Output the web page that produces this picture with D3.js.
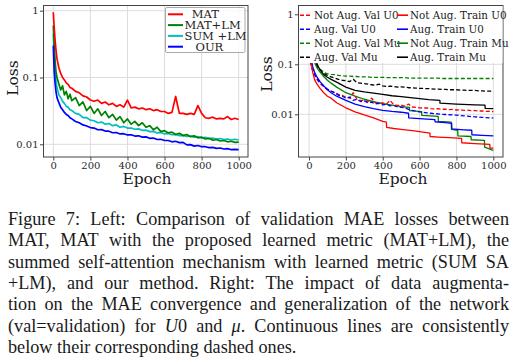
<!DOCTYPE html>
<html>
<head>
<meta charset="utf-8">
<script src="https://cdn.jsdelivr.net/npm/d3@7"></script>
<style>
  body { margin: 0; background: #fff; }
  #fig { position: relative; width: 517px; height: 358px; overflow: hidden; background: #fff; }
  #fig svg { position: absolute; left: 0; top: 0; }
  #caption {
    position: absolute; left: 8px; top: 209.2px; width: 501px;
    font-family: "Liberation Serif", "Times New Roman", serif;
    font-size: 18.2px; line-height: 21.3px; color: #1a1a1a;
  }
  #caption div { text-align: justify; text-align-last: justify; white-space: nowrap; }
  #caption div.last { text-align-last: left; }
</style>
</head>
<body>
<div id="fig"></div>
<script>
// ---- data ----
const epochGrid = [0,5,10,15,20,30,40,50,60,70,80,90,100,
  120,140,160,180,200, 220,240,260,280,300, 320,340,360,380,400,
  420,440,460,480,500, 520,540,560,580,600, 620,640,660,680,700,
  720,740,760,780,800, 820,840,860,880,900, 920,940,960,980,1000]

const xTicks = [0,200,400,600,800,1000]
const yTicks = [1,0.1,0.01]
const yTickLabels = ["1","0.1","0.01"]

// left panel: validation losses
const leftLabels = ["  MAT","MAT+LM","SUM +LM","   OUR"]
const matVal = [0.95,0.55,0.35,0.25,0.19,0.14,0.115,0.1,0.092,0.083,0.079,0.071,0.069,
  0.062,0.059,0.053,0.051,0.046, 0.044,0.046,0.041,0.043,0.039, 0.041,0.037,0.039,0.036,0.046,
  0.035,0.036,0.034,0.035,0.033, 0.034,0.032,0.033,0.031,0.031, 0.029,0.03,0.052,0.029,0.029,
  0.028,0.029,0.028,0.038,0.029, 0.025,0.0245,0.0255,0.024,0.0245, 0.024,0.026,0.0235,0.0245,0.0235]
const matLmVal = [0.6,0.3,0.17,0.12,0.1,0.08,0.065,0.075,0.055,0.062,0.048,0.056,0.045,
  0.05,0.038,0.043,0.032,0.037, 0.029,0.034,0.027,0.031,0.025, 0.028,0.023,0.026,0.021,0.024,
  0.02,0.022,0.019,0.021,0.018, 0.019,0.0165,0.018,0.0155,0.016, 0.0148,0.0152,0.014,0.0146,0.0135,
  0.014,0.013,0.0134,0.0125,0.0128, 0.012,0.0123,0.0115,0.0118,0.0112, 0.0114,0.0109,0.0111,0.0107,0.0108]
const sumLmVal = [0.45,0.2,0.12,0.085,0.07,0.055,0.05,0.044,0.041,0.037,0.036,0.033,0.032,
  0.029,0.028,0.025,0.025,0.023, 0.0225,0.021,0.0215,0.02,0.0205, 0.019,0.0195,0.018,0.0185,0.0175,
  0.0175,0.0168,0.017,0.0162,0.0163, 0.0155,0.0156,0.0148,0.015,0.0143, 0.0145,0.0139,0.014,0.0135,0.0136,
  0.0131,0.0133,0.0128,0.013,0.0125, 0.0127,0.0122,0.0124,0.012,0.0122, 0.0118,0.012,0.0116,0.0119,0.0116]
const ourVal = [0.3,0.12,0.08,0.06,0.05,0.042,0.036,0.033,0.03,0.028,0.027,0.025,0.024,
  0.022,0.021,0.0195,0.0188,0.0178, 0.0175,0.0165,0.0166,0.0158,0.0157, 0.0149,0.015,0.0143,0.0144,0.0138,
  0.0139,0.0133,0.0134,0.0128,0.0129, 0.0123,0.0124,0.0118,0.0119,0.0114, 0.0114,0.0109,0.0111,0.0106,0.0107,
  0.0098,0.0099,0.0094,0.0096,0.0092, 0.0092,0.0089,0.009,0.0087,0.0088, 0.0085,0.0086,0.0083,0.0084,0.0083]

// right panel: augmentation study
const rightLabels = ["Not Aug. Val U0","Aug. Val U0","Not Aug. Val Mu","Aug. Val Mu",
  "Not Aug. Train U0","Aug. Train U0","Not Aug. Train Mu","Aug. Train Mu"]
const notAugValU0 = [0.2,0.13,0.1,0.085,0.075,0.062,0.052,0.046,0.042,0.038,0.036,0.033,0.031,
  0.029,0.027,0.025,0.024,0.022, 0.021,0.027,0.02,0.019,0.019, 0.018,0.021,0.017,0.0165,0.017,
  0.016,0.019,0.0155,0.015,0.0152, 0.0145,0.016,0.014,0.0138,0.0135, 0.0133,0.0135,0.013,0.0128,0.013,
  0.0126,0.0127,0.0124,0.0125,0.0122, 0.0123,0.012,0.0121,0.0118,0.0119, 0.0116,0.0117,0.0114,0.0115,0.0113]
const augValU0 = [0.2,0.14,0.11,0.09,0.078,0.063,0.055,0.048,0.043,0.04,0.037,0.034,0.032,
  0.029,0.027,0.024,0.023,0.021, 0.022,0.019,0.02,0.018,0.0185, 0.017,0.0175,0.0162,0.0165,0.0155,
  0.0158,0.0148,0.015,0.014,0.0138, 0.0135,0.0125,0.012,0.0115,0.0112, 0.011,0.0107,0.0105,0.0103,0.0102,
  0.01,0.0099,0.0098,0.0097,0.0096, 0.0094,0.0093,0.0092,0.009,0.0089, 0.0088,0.0087,0.0086,0.0085,0.0084]
const notAugValMu = [0.3,0.25,0.2,0.17,0.15,0.12,0.1,0.088,0.08,0.075,0.07,0.067,0.065,
  0.063,0.062,0.06,0.059,0.058, 0.058,0.057,0.057,0.056,0.056, 0.056,0.055,0.055,0.055,0.055,
  0.054,0.054,0.054,0.054,0.054, 0.054,0.053,0.053,0.053,0.053, 0.053,0.053,0.053,0.053,0.053,
  0.052,0.052,0.052,0.052,0.052, 0.052,0.052,0.052,0.052,0.052, 0.052,0.052,0.052,0.052,0.052]
const augValMu = [0.4,0.3,0.25,0.2,0.17,0.13,0.1,0.085,0.077,0.07,0.066,0.063,0.06,
  0.056,0.053,0.05,0.048,0.047, 0.045,0.05,0.043,0.042,0.041, 0.04,0.039,0.038,0.04,0.037,
  0.036,0.0365,0.036,0.035,0.0355, 0.035,0.034,0.034,0.0335,0.033, 0.033,0.0325,0.0325,0.032,0.032,
  0.0315,0.0315,0.031,0.031,0.031, 0.0305,0.0305,0.03,0.03,0.03, 0.0295,0.0295,0.029,0.029,0.029]

const notAugTrainU0Ep = [0,10,20,30,40,60,80,100,120,150,200,250,300,350,400,420,421,460,500,560,600,656,657,700,760,828,829,900,981,982,1000]
const notAugTrainU0 = [0.3,0.12,0.07,0.05,0.042,0.033,0.027,0.023,0.021,0.017,0.0135,0.0112,0.0097,0.0085,0.0072,
  0.007,0.0055,0.0052,0.005,0.0047,0.0045,0.0042,0.0036,0.0035,0.0034,0.0033,0.0027,0.0026,0.0025,0.0021,0.0021]
const augTrainU0Ep = [0,10,20,30,40,60,80,100,120,150,200,250,300,350,400,450,500,540,541,600,683,684,740,774,775,840,883,884,940,1000]
const augTrainU0 = [0.3,0.14,0.09,0.07,0.058,0.045,0.037,0.031,0.027,0.023,0.019,0.016,0.0143,0.013,0.012,
  0.0114,0.011,0.0105,0.0085,0.0082,0.0078,0.0071,0.0068,0.0066,0.0051,0.0049,0.0048,0.0039,0.0038,0.0037]
const notAugTrainMuEp = [0,10,20,30,40,50,60,80,100,120,150,200,250,300,350,400,450,500,545,546,611,612,701,702,772,773,807,808,879,880,952,953,1000]
const notAugTrainMu = [0.5,0.25,0.15,0.11,0.09,0.078,0.07,0.057,0.048,0.042,0.035,0.027,0.023,0.02,0.018,
  0.0163,0.0152,0.0143,0.0137,0.0118,0.0113,0.0095,0.0091,0.0072,0.007,0.005,0.0048,0.0037,0.0036,0.0031,0.003,0.0022,0.0019]
const augTrainMuEp = [0,10,20,30,40,50,60,80,100,120,150,200,250,300,350,400,450,500,550,600,650,710,711,800,900,955,956,1000]
const augTrainMu = [0.6,0.35,0.22,0.15,0.11,0.09,0.078,0.062,0.055,0.05,0.044,0.035,0.03,0.028,0.0265,
  0.025,0.0235,0.0225,0.0215,0.0205,0.0197,0.019,0.0167,0.016,0.0155,0.0152,0.0131,0.013]

// ---- drawing ----
const W = 517, H = 358
const tickFont = "DejaVu Serif, serif"

const svg = d3.select("#fig").append("svg")
  .attr("width", W)
  .attr("height", H)

function zip(xs, ys) { return xs.map((e, i) => [e, ys[i]]) }

function panel(o) {
  const x = d3.scaleLinear().domain([0, 1000]).range([o.x0, o.x1])
  const y = d3.scaleLog().domain([1, 0.01]).range([o.y1, o.y001])
  const g = svg.append("g")

  // gridlines
  g.append("g").selectAll("line").data(xTicks).join("line")
    .attr("x1", d => x(d)).attr("x2", d => x(d))
    .attr("y1", o.top).attr("y2", o.bottom)
    .attr("stroke", "#dcdcdc").attr("stroke-width", 1)
  g.append("g").selectAll("line").data(yTicks).join("line")
    .attr("x1", o.left).attr("x2", o.right)
    .attr("y1", d => y(d)).attr("y2", d => y(d))
    .attr("stroke", "#dcdcdc").attr("stroke-width", 1)

  svg.append("clipPath").attr("id", o.id + "clip")
    .append("rect")
    .attr("x", o.left).attr("y", o.top)
    .attr("width", o.right - o.left).attr("height", o.bottom - o.top)

  const line = d3.line().x(d => x(d[0])).y(d => y(d[1]))
  const lines = g.append("g").attr("clip-path", `url(#${o.id}clip)`)
  o.series.forEach(s => {
    lines.append("path")
      .datum(zip(s.ep, s.v))
      .attr("d", line)
      .attr("fill", "none")
      .attr("stroke", s.color)
      .attr("stroke-width", s.width)
      .attr("stroke-dasharray", s.dash ? "4,2.2" : null)
      .attr("stroke-linejoin", "round")
  })

  // axes
  const xAxis = d3.axisBottom(x).tickValues(xTicks).tickFormat(d => String(d))
    .tickSize(3.5).tickPadding(1.5).tickSizeOuter(0)
  const gx = g.append("g").attr("transform", `translate(0,${o.bottom})`).call(xAxis)
  const yAxis = d3.axisLeft(y).tickValues(yTicks).tickFormat((d, i) => yTickLabels[i])
    .tickSize(3.5).tickPadding(1.5).tickSizeOuter(0)
  const gy = g.append("g").attr("transform", `translate(${o.left},0)`).call(yAxis)
  ;[gx, gy].forEach(a => {
    a.select(".domain").remove()
    a.selectAll("line").attr("stroke", "#444")
    a.selectAll("text").attr("fill", "#2a2a2a").attr("font-size", 10).attr("font-family", tickFont)
  })

  // frame
  g.append("rect")
    .attr("x", o.left).attr("y", o.top)
    .attr("width", o.right - o.left).attr("height", o.bottom - o.top)
    .attr("fill", "none").attr("stroke", "#444").attr("stroke-width", 1)

  // axis titles
  g.append("text")
    .attr("transform", `translate(${o.ylabX},${o.ylabY}) rotate(-90)`)
    .attr("text-anchor", "middle")
    .attr("font-family", tickFont).attr("font-size", 15.5).attr("fill", "#1a1a1a")
    .text("Loss")
  g.append("text")
    .attr("x", o.xlabX).attr("y", o.xlabY)
    .attr("text-anchor", "middle")
    .attr("font-family", tickFont).attr("font-size", 15.5).attr("fill", "#1a1a1a")
    .text("Epoch")

  return { x, y, g }
}

// left panel
const left = panel({
  id: "L", left: 43.5, right: 248, top: 5.5, bottom: 157,
  x0: 53.3, x1: 238.7, y1: 10.7, y001: 144.3,
  ylabX: 17.5, ylabY: 78, xlabX: 147, xlabY: 184,
  series: [
    { ep: epochGrid, v: sumLmVal, color: "#00bfbf", width: 1.7 },
    { ep: epochGrid, v: matLmVal, color: "#008000", width: 1.7 },
    { ep: epochGrid, v: ourVal, color: "#0000ff", width: 1.7 },
    { ep: epochGrid, v: matVal, color: "#ff0000", width: 1.7 }
  ]
})

const leftColors = ["#ff0000", "#008000", "#00bfbf", "#0000ff"]
const lg = left.g.append("g")
lg.append("rect")
  .attr("x", 165.5).attr("y", 7.5).attr("width", 79.5).attr("height", 45).attr("rx", 1.5)
  .attr("fill", "#fff").attr("fill-opacity", 0.8)
  .attr("stroke", "#aaa").attr("stroke-width", 1)
leftLabels.forEach((lab, i) => {
  const yy = 14.3 + i * 10.8
  lg.append("line").attr("x1", 168).attr("x2", 183).attr("y1", yy).attr("y2", yy)
    .attr("stroke", leftColors[i]).attr("stroke-width", 2)
  lg.append("text").attr("x", 184.5).attr("y", yy).attr("dy", "0.36em")
    .attr("font-family", tickFont).attr("font-size", 11.5).attr("fill", "#222")
    .style("white-space", "pre")
    .text(lab)
})

// right panel
const rightColors = ["#ff0000", "#0000ff", "#008000", "#000000"]
const right = panel({
  id: "R", left: 298.5, right: 503, top: 5.5, bottom: 157,
  x0: 309, x1: 493.3, y1: 14.3, y001: 114.3,
  ylabX: 272, ylabY: 74, xlabX: 403, xlabY: 184,
  series: [
    { ep: epochGrid, v: notAugValMu, color: rightColors[2], width: 1.3, dash: true },
    { ep: epochGrid, v: augValMu, color: rightColors[3], width: 1.3, dash: true },
    { ep: augTrainMuEp, v: augTrainMu, color: rightColors[3], width: 1.3 },
    { ep: notAugTrainMuEp, v: notAugTrainMu, color: rightColors[2], width: 1.3 },
    { ep: epochGrid, v: notAugValU0, color: rightColors[0], width: 1.3, dash: true },
    { ep: epochGrid, v: augValU0, color: rightColors[1], width: 1.3, dash: true },
    { ep: augTrainU0Ep, v: augTrainU0, color: rightColors[1], width: 1.3 },
    { ep: notAugTrainU0Ep, v: notAugTrainU0, color: rightColors[0], width: 1.3 }
  ]
})

const rg = right.g.append("g")
rg.append("rect")
  .attr("x", 299).attr("y", 6).attr("width", 203.5).attr("height", 57)
  .attr("fill", "#fff")
rightLabels.forEach((lab, i) => {
  const col = Math.floor(i / 4), row = i % 4
  const yy = 15.2 + row * 14
  const lx = col ? 397 : 300
  rg.append("line").attr("x1", lx).attr("x2", lx + 11).attr("y1", yy).attr("y2", yy)
    .attr("stroke", rightColors[row]).attr("stroke-width", 1.6)
    .attr("stroke-dasharray", col ? null : "4,2")
  rg.append("text").attr("x", col ? 410 : 314).attr("y", yy).attr("dy", "0.36em")
    .attr("font-family", "DejaVu Serif Condensed, DejaVu Serif, serif")
    .style("font-stretch", "condensed")
    .attr("font-size", 11.5).attr("fill", "#222")
    .text(lab)
})

// caption
const captionLines = [
  "Figure 7:  Left:  Comparison of validation MAE losses between",
  "MAT, MAT with the proposed learned metric (MAT+LM), the",
  "summed self-attention mechanism with learned metric (SUM SA",
  "+LM), and our method.  Right: The impact of data augmenta-",
  "tion on the MAE convergence and generalization of the network",
  "(val=validation) for <i>U</i>0 and <i>μ</i>.  Continuous lines are consistently",
  "below their corresponding dashed ones."
]
const cap = d3.select("#fig").append("div").attr("id", "caption")
captionLines.forEach((t, i) => {
  cap.append("div")
    .attr("class", i === captionLines.length - 1 ? "last" : null)
    .html(t)
})
</script>
</body>
</html>
